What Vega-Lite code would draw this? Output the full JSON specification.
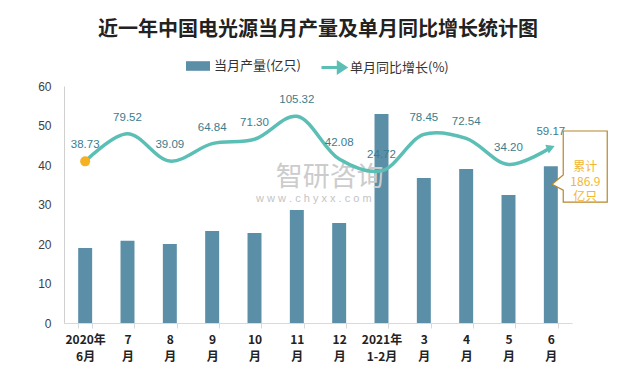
{
  "$schema": "https://vega.github.io/schema/vega-lite/v6.json",
  "width": 508,
  "height": 237,
  "autosize": {"type": "none"},
  "padding": {"left": 64, "top": 86, "right": 55, "bottom": 51},
  "background": "white",
  "title": {"text": "近一年中国电光源当月产量及单月同比增长统计图", "font": "Noto Sans CJK SC", "fontSize": 20, "fontWeight": "bold", "color": "#222222", "anchor": "middle", "offset": 14},
  "datasets": {
    "main": [
      {"cat": "2020年|6月", "output": 19.0, "growth": 38.73},
      {"cat": "7|月", "output": 20.8, "growth": 79.52},
      {"cat": "8|月", "output": 20.0, "growth": 39.09},
      {"cat": "9|月", "output": 23.3, "growth": 64.84},
      {"cat": "10|月", "output": 22.8, "growth": 71.30},
      {"cat": "11|月", "output": 28.6, "growth": 105.32},
      {"cat": "12|月", "output": 25.3, "growth": 42.08},
      {"cat": "2021年|1-2月", "output": 52.9, "growth": 24.72},
      {"cat": "3|月", "output": 36.7, "growth": 78.45},
      {"cat": "4|月", "output": 39.0, "growth": 72.54},
      {"cat": "5|月", "output": 32.4, "growth": 34.20},
      {"cat": "6|月", "output": 39.7, "growth": 59.17}
    ]
  },
  "data": {"name": "main"},
  "encoding": {
    "x": {
      "field": "cat", "type": "nominal",
      "scale": {"domain": ["2020年|6月", "7|月", "8|月", "9|月", "10|月", "11|月", "12|月", "2021年|1-2月", "3|月", "4|月", "5|月", "6|月"], "paddingInner": 0.67, "paddingOuter": 0.335},
      "axis": {"title": null, "labelExpr": "split(datum.label,'|')", "labelAngle": 0, "labelFont": "Liberation Sans Narrow, Noto Sans CJK SC", "labelFontSize": 12, "labelFontWeight": "bold", "labelColor": "#222222", "labelLineHeight": 17, "labelPadding": 6, "domainColor": "#d9d9d9", "tickColor": "#d9d9d9", "tickBand": "extent", "tickSize": 5, "grid": false}
    }
  },
  "layer": [
    {
      "mark": {"type": "bar", "color": "#5b8fa8"},
      "encoding": {
        "y": {"field": "output", "type": "quantitative", "scale": {"domain": [0, 60]}, "axis": {"title": null, "values": [0, 10, 20, 30, 40, 50, 60], "grid": false, "ticks": false, "domainColor": "#d0d0d0", "labelPadding": 13, "labelFontSize": 12, "labelFont": "Liberation Sans", "labelColor": "#404040"}},
        "fill": {"datum": "当月产量(亿只)", "type": "nominal", "scale": {"range": ["#5b8fa8"]}, "legend": {"orient": "none", "legendX": 122, "legendY": -32, "direction": "horizontal", "title": null, "symbolType": "M-1,-0.4H1V0.4H-1Z", "symbolSize": 576, "symbolStrokeWidth": 0, "labelFontSize": 13, "labelFont": "Noto Sans CJK SC", "labelColor": "#333333", "labelOffset": 4, "padding": 0}}
      }
    },
    {
      "data": {"values": [{"cat": "11|月", "v": 36.7, "t": "智研咨询"}]},
      "mark": {"type": "text", "font": "Noto Sans CJK SC", "fontSize": 27, "color": "#cccccc", "dx": 33, "baseline": "middle"},
      "encoding": {"y": {"field": "v", "type": "quantitative", "scale": {"domain": [0, 60]}, "axis": null}, "text": {"field": "t"}}
    },
    {
      "data": {"values": [{"cat": "11|月", "v": 31.4, "t": "w w w . c h y x x . c o m"}]},
      "mark": {"type": "text", "font": "Liberation Sans", "fontSize": 11, "color": "#c4c4c4", "dx": 17, "baseline": "middle"},
      "encoding": {"y": {"field": "v", "type": "quantitative", "scale": {"domain": [0, 60]}, "axis": null}, "text": {"field": "t"}}
    },
    {
      "mark": {"type": "line", "interpolate": "catmull-rom", "strokeWidth": 3.5, "color": "#5bbfb5"},
      "encoding": {
        "y": {"field": "growth", "type": "quantitative", "scale": {"domain": [-200, 150]}, "axis": null},
        "stroke": {"datum": "单月同比增长(%)", "type": "nominal", "scale": {"range": ["#5bbfb5"]}, "legend": {"orient": "none", "legendX": 256, "legendY": -32, "direction": "horizontal", "title": null, "symbolType": "M-1,0H0.55M0.4,-0.4L1,0L0.4,0.4Z", "symbolSize": 576, "symbolStrokeWidth": 3, "symbolFillColor": "#5bbfb5", "labelFontSize": 13, "labelFont": "Noto Sans CJK SC", "labelColor": "#333333", "labelOffset": 3, "padding": 0}}
      }
    },
    {
      "mark": {"type": "text", "dy": -16, "font": "Liberation Sans", "fontSize": 11.5, "color": "#3b7d8c", "baseline": "middle"},
      "encoding": {
        "y": {"field": "growth", "type": "quantitative", "scale": {"domain": [-200, 150]}, "axis": null},
        "text": {"field": "growth", "type": "quantitative", "format": ".2f"}
      }
    },
    {
      "transform": [{"filter": "datum.cat === '2020年|6月'"}],
      "mark": {"type": "point", "filled": true, "size": 100, "color": "#f5b120", "opacity": 1},
      "encoding": {"y": {"field": "growth", "type": "quantitative", "scale": {"domain": [-200, 150]}, "axis": null}}
    },
    {
      "transform": [{"filter": "datum.cat === '6|月'"}],
      "mark": {"type": "point", "shape": "triangle-right", "filled": true, "size": 90, "color": "#5bbfb5", "opacity": 1, "angle": 338},
      "encoding": {"y": {"field": "growth", "type": "quantitative", "scale": {"domain": [-200, 150]}, "axis": null}}
    },
    {
      "data": {"values": [{"cat": "6|月", "v": 39.6, "t": "累计\n186.9\n亿只"}]},
      "mark": {"type": "point", "shape": "M0.31,-0.89L1.41,-0.89L1.41,0.89L0.31,0.89L0.31,0.59L0.03,0.44L0.31,0.21Z", "size": 6400, "fill": "white", "stroke": "#b8862b", "strokeWidth": 1.2, "opacity": 1, "fillOpacity": 1},
      "encoding": {"y": {"field": "v", "type": "quantitative", "scale": {"domain": [0, 60]}, "axis": null}}
    },
    {
      "data": {"values": [{"cat": "6|月", "v": 39.6, "t": "累计\n186.9\n亿只"}]},
      "mark": {"type": "text", "lineBreak": "\n", "lineHeight": 15, "dx": 34.5, "font": "Noto Sans CJK SC", "fontSize": 12, "color": "#f2b632", "baseline": "middle", "align": "center"},
      "encoding": {"y": {"field": "v", "type": "quantitative", "scale": {"domain": [0, 60]}, "axis": null}, "text": {"field": "t"}}
    }
  ],
  "resolve": {"scale": {"y": "independent", "fill": "independent", "stroke": "independent"}},
  "config": {"view": {"stroke": null}}
}
